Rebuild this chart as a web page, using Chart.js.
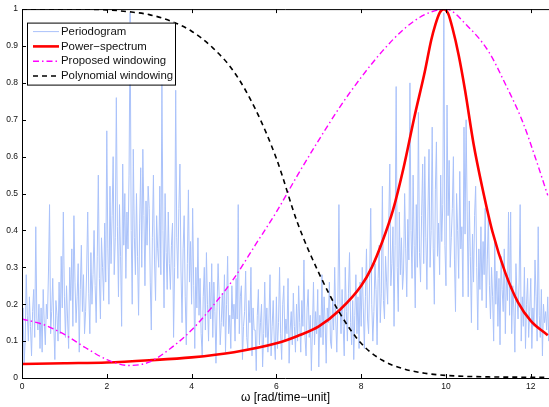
<!DOCTYPE html>
<html>
<head>
<meta charset="utf-8">
<script src="https://cdn.jsdelivr.net/npm/chart.js@4.4.1/dist/chart.umd.min.js"></script>
<style>
  html, body { margin: 0; padding: 0; background: #fff; }
  #wrap { width: 549px; height: 407px; position: relative; }
</style>
</head>
<body>
<div id="wrap"><canvas id="spec"></canvas></div>
<script>
// Periodogram, one value every 0.025 rad/time-unit starting at 0
const omegaStep = 0.025;
const periodogram = [
  0.12, 0.19, 0.04, 0.10, 0.28, 0.17, 0.10, 0.22, 0.14, 0.06, 0.18, 0.24, 0.11, 0.41, 0.16, 0.13, 0.20, 0.08, 0.19, 0.07,
  0.24, 0.15, 0.09, 0.20, 0.16, 0.29, 0.47, 0.12, 0.18, 0.27, 0.14, 0.05, 0.21, 0.17, 0.10, 0.26, 0.12, 0.33, 0.19, 0.45,
  0.22, 0.11, 0.25, 0.16, 0.08, 0.30, 0.21, 0.35, 0.14, 0.44, 0.26, 0.15, 0.22, 0.31, 0.07, 0.24, 0.36, 0.18, 0.28, 0.12,
  0.18, 0.29, 0.45, 0.23, 0.12, 0.34, 0.20, 0.28, 0.40, 0.25, 0.15, 0.33, 0.55, 0.27, 0.16, 0.38, 0.30, 0.21, 0.42, 0.26,
  0.67, 0.35, 0.20, 0.52, 0.31, 0.44, 0.60, 0.28, 0.38, 0.76, 0.41, 0.22, 0.47, 0.33, 0.14, 0.58, 0.36, 0.50, 0.27, 0.45,
  0.35, 0.55, 0.99, 0.40, 0.20, 0.62, 0.38, 0.28, 0.50, 0.33, 0.17, 0.42, 0.57, 0.30, 0.62, 0.44, 0.25, 0.48, 0.36, 0.52,
  0.46, 0.26, 0.13, 0.38, 0.55, 0.32, 0.21, 0.44, 0.35, 0.30, 0.52, 0.28, 0.80, 0.40, 0.19, 0.50, 0.34, 0.24, 0.45, 0.31,
  0.24, 0.36, 0.42, 0.11, 0.30, 0.78, 0.38, 0.27, 0.46, 0.58, 0.29, 0.15, 0.35, 0.44, 0.22, 0.09, 0.31, 0.51, 0.26, 0.37,
  0.20, 0.46, 0.25, 0.08, 0.30, 0.19, 0.38, 0.17, 0.27, 0.12, 0.06, 0.22, 0.30, 0.13, 0.34, 0.20, 0.10, 0.26, 0.16, 0.31,
  0.11, 0.26, 0.18, 0.04, 0.19, 0.31, 0.22, 0.09, 0.15, 0.23, 0.14, 0.28, 0.07, 0.20, 0.33, 0.12, 0.17, 0.08, 0.25, 0.16,
  0.20, 0.10, 0.27, 0.16, 0.47, 0.12, 0.22, 0.25, 0.05, 0.14, 0.18, 0.29, 0.11, 0.08, 0.21, 0.15, 0.30, 0.06, 0.19, 0.13,
  0.13, 0.02, 0.17, 0.24, 0.09, 0.15, 0.20, 0.03, 0.12, 0.26, 0.11, 0.19, 0.07, 0.16, 0.28, 0.06, 0.14, 0.21, 0.10, 0.05,
  0.22, 0.08, 0.15, 0.30, 0.12, 0.05, 0.20, 0.25, 0.10, 0.16, 0.12, 0.27, 0.04, 0.13, 0.18, 0.09, 0.23, 0.14, 0.07, 0.20,
  0.10, 0.25, 0.15, 0.07, 0.21, 0.14, 0.32, 0.11, 0.06, 0.19, 0.24, 0.11, 0.17, 0.02, 0.13, 0.26, 0.09, 0.18, 0.12, 0.24,
  0.03, 0.17, 0.11, 0.28, 0.09, 0.22, 0.15, 0.04, 0.19, 0.15, 0.26, 0.10, 0.08, 0.21, 0.13, 0.30, 0.16, 0.07, 0.20, 0.47,
  0.20, 0.12, 0.24, 0.14, 0.06, 0.30, 0.18, 0.10, 0.23, 0.34, 0.15, 0.09, 0.21, 0.05, 0.17, 0.28, 0.12, 0.22, 0.08, 0.26,
  0.14, 0.30, 0.19, 0.08, 0.22, 0.35, 0.16, 0.12, 0.27, 0.46, 0.20, 0.10, 0.18, 0.31, 0.24, 0.09, 0.27, 0.36, 0.15, 0.23,
  0.52, 0.21, 0.16, 0.33, 0.26, 0.20, 0.42, 0.58, 0.25, 0.31, 0.41, 0.14, 0.36, 0.79, 0.30, 0.18, 0.45, 0.28, 0.38, 0.24,
  0.29, 0.50, 0.35, 0.22, 0.43, 0.32, 0.80, 0.40, 0.27, 0.55, 0.36, 0.19, 0.47, 0.30, 0.72, 0.34, 0.26, 0.44, 0.58, 0.31,
  0.60, 0.38, 0.24, 0.45, 0.62, 0.30, 0.40, 0.68, 0.35, 0.20, 0.51, 0.64, 0.33, 0.42, 0.28, 0.55, 0.37, 0.47, 0.99, 0.36,
  0.25, 0.74, 0.44, 0.59, 0.30, 0.38, 0.46, 0.60, 0.32, 0.18, 0.50, 0.40, 0.27, 0.56, 0.35, 0.41, 0.22, 0.68, 0.39, 0.70,
  0.45, 0.22, 0.48, 0.33, 0.15, 0.39, 0.26, 0.44, 0.52, 0.30, 0.13, 0.35, 0.24, 0.41, 0.21, 0.37, 0.28, 0.46, 0.19, 0.32,
  0.44, 0.25, 0.16, 0.30, 0.22, 0.10, 0.37, 0.20, 0.29, 0.14, 0.27, 0.09, 0.33, 0.24, 0.18, 0.35, 0.12, 0.28, 0.21, 0.45,
  0.17, 0.45, 0.12, 0.25, 0.19, 0.07, 0.31, 0.22, 0.16, 0.26, 0.47, 0.10, 0.22, 0.14, 0.30, 0.08, 0.20, 0.27, 0.11, 0.18,
  0.27, 0.08, 0.19, 0.14, 0.32, 0.22, 0.10, 0.41, 0.17, 0.11, 0.24, 0.06, 0.20, 0.15, 0.18, 0.13, 0.22, 0.10, 0.16, 0.12
];

// Power spectrum
const spectrumOmega = [0, 1, 2, 3, 4, 5, 6, 6.5, 7, 7.5, 8, 8.25, 8.5, 8.75, 9, 9.25, 9.5, 9.65, 9.75, 9.85, 9.95,
  10.05, 10.15, 10.3, 10.45, 10.65, 10.85, 11.1, 11.4, 11.7, 12, 12.4];
const powerSpectrum = [0.038, 0.040, 0.042, 0.048, 0.056, 0.070, 0.094, 0.114, 0.140, 0.185, 0.250, 0.300,
  0.370, 0.455, 0.570, 0.705, 0.830, 0.915, 0.958, 0.990, 1.000, 0.988, 0.950, 0.875, 0.780, 0.635, 0.520,
  0.395, 0.285, 0.205, 0.155, 0.116];

// Proposed windowing
const proposedOmega = [0, 0.5, 1, 1.5, 2, 2.5, 3, 3.5, 4, 4.5, 5, 5.5, 6, 6.5, 7, 7.5, 8, 8.5, 9, 9.5, 10,
  10.5, 11, 11.4, 11.8, 12.1, 12.4];
const proposedWindow = [0.160, 0.145, 0.118, 0.082, 0.050, 0.034, 0.043, 0.080, 0.130, 0.195, 0.270, 0.360,
  0.450, 0.550, 0.645, 0.735, 0.815, 0.886, 0.945, 0.985, 1.000, 0.955, 0.886, 0.797, 0.697, 0.600, 0.495];

// Polynomial windowing
const polyOmega = [0, 1, 2, 2.5, 3, 3.5, 4, 4.5, 5, 5.5, 6, 6.5, 7, 7.5, 8, 8.5, 9, 9.5, 10, 11, 12.4];
const polynomialWindow = [1.000, 1.000, 0.998, 0.993, 0.985, 0.968, 0.940, 0.895, 0.830, 0.730, 0.595, 0.420,
  0.285, 0.175, 0.094, 0.048, 0.025, 0.013, 0.007, 0.003, 0.002];

const xTicks = [0, 2, 4, 6, 8, 10, 12];
const yTicks = [0, 0.1, 0.2, 0.3, 0.4, 0.5, 0.6, 0.7, 0.8, 0.9, 1];
const yTickLabels = ['0', '0.1', '0.2', '0.3', '0.4', '0.5', '0.6', '0.7', '0.8', '0.9', '1'];
const xTitle = 'ω [rad/time−unit]';

const font = '"Liberation Sans", Arial, Helvetica, sans-serif';

function pairs(xs, ys) {
  return ys.map((y, i) => ({ x: xs[i], y: y }));
}

// MATLAB style box: axis lines plus ticks pointing inwards
const axesBox = {
  id: 'axesBox',
  afterDatasetsDraw(chart) {
    const ctx = chart.ctx;
    const a = chart.chartArea;
    const xs = chart.scales.x, ys = chart.scales.y;
    const len = 4;
    ctx.save();
    ctx.strokeStyle = '#000';
    ctx.lineWidth = 1;
    ctx.beginPath();
    ctx.moveTo(a.left + 0.5, a.top + 0.5);
    ctx.lineTo(a.left + 0.5, a.bottom + 0.5);
    ctx.lineTo(a.right, a.bottom + 0.5);
    ctx.moveTo(a.left + 0.5, a.top + 0.5);
    ctx.lineTo(a.right, a.top + 0.5);
    xTicks.forEach(v => {
      const px = Math.round(xs.getPixelForValue(v)) + 0.5;
      ctx.moveTo(px, a.bottom);
      ctx.lineTo(px, a.bottom - len);
      ctx.moveTo(px, a.top);
      ctx.lineTo(px, a.top + len);
    });
    yTicks.forEach(v => {
      const py = Math.round(ys.getPixelForValue(v)) + 0.5;
      ctx.moveTo(a.left, py);
      ctx.lineTo(a.left + len, py);
    });
    ctx.stroke();
    ctx.restore();
  }
};

// legend box drawn inside the axes, top-left
const legendBox = {
  id: 'legendBox',
  afterDraw(chart) {
    const ctx = chart.ctx;
    const a = chart.chartArea;
    const x0 = a.left + 5, y0 = a.top + 13.5, w = 148, h = 62, row = 14.8;
    ctx.save();
    ctx.fillStyle = '#fff';
    ctx.fillRect(x0, y0, w, h);
    ctx.strokeStyle = '#000';
    ctx.lineWidth = 1;
    ctx.strokeRect(x0 + 0.5, y0 + 0.5, w, h);
    ctx.font = '11.4px ' + font;
    ctx.textBaseline = 'middle';
    chart.data.datasets.forEach((ds, i) => {
      const cy = y0 + 9 + i * row;
      ctx.strokeStyle = ds.borderColor;
      ctx.lineWidth = ds.borderWidth;
      ctx.setLineDash(ds.borderDash || []);
      ctx.beginPath();
      ctx.moveTo(x0 + 6, cy);
      ctx.lineTo(x0 + 32, cy);
      ctx.stroke();
      ctx.setLineDash([]);
      ctx.fillStyle = '#111';
      ctx.fillText(ds.label, x0 + 34, cy);
    });
    ctx.restore();
  }
};

new Chart(document.getElementById('spec'), {
  type: 'line',
  data: {
    datasets: [
      {
        label: 'Periodogram',
        data: periodogram.map((v, i) => ({ x: i * omegaStep, y: v })),
        borderColor: 'rgb(170,194,250)',
        borderWidth: 1,
        pointRadius: 0,
        tension: 0,
        order: 4
      },
      {
        label: 'Power−spectrum',
        data: pairs(spectrumOmega, powerSpectrum),
        borderColor: '#ff0000',
        borderWidth: 2.6,
        pointRadius: 0,
        cubicInterpolationMode: 'monotone',
        order: 3
      },
      {
        label: 'Proposed windowing',
        data: pairs(proposedOmega, proposedWindow),
        borderColor: '#ff00ff',
        borderWidth: 1.4,
        borderDash: [6, 3, 1.5, 3],
        pointRadius: 0,
        cubicInterpolationMode: 'monotone',
        order: 2
      },
      {
        label: 'Polynomial windowing',
        data: pairs(polyOmega, polynomialWindow),
        borderColor: '#000000',
        borderWidth: 1.6,
        borderDash: [5, 4],
        pointRadius: 0,
        cubicInterpolationMode: 'monotone',
        order: 1
      }
    ]
  },
  options: {
    responsive: true,
    maintainAspectRatio: false,
    animation: false,
    devicePixelRatio: 1,
    layout: { padding: { top: 7, right: 0, left: 0, bottom: 0 } },
    plugins: {
      legend: { display: false },
      tooltip: { enabled: false }
    },
    scales: {
      x: {
        type: 'linear',
        min: 0,
        max: 12.43,
        afterBuildTicks: s => { s.ticks = xTicks.map(v => ({ value: v })); },
        afterFit: s => { s.height = 29; },
        grid: { display: false, drawTicks: false },
        border: { display: false },
        ticks: {
          autoSkip: false, maxRotation: 0, padding: 4,
          color: '#111', font: { family: font, size: 8.5 },
          callback: v => String(v)
        },
        title: {
          display: true, text: xTitle, color: '#000',
          font: { family: font, size: 12 },
          padding: { top: 0, bottom: 2 }
        }
      },
      y: {
        min: 0,
        max: 1,
        afterBuildTicks: s => { s.ticks = yTicks.map(v => ({ value: v })); },
        afterFit: s => { s.width = 22; },
        grid: { display: false, drawTicks: false },
        border: { display: false },
        ticks: {
          autoSkip: false, padding: 4,
          color: '#111', font: { family: font, size: 8.5 },
          callback: (v, i) => yTickLabels[i]
        }
      }
    }
  },
  plugins: [axesBox, legendBox]
});
</script>
</body>
</html>
